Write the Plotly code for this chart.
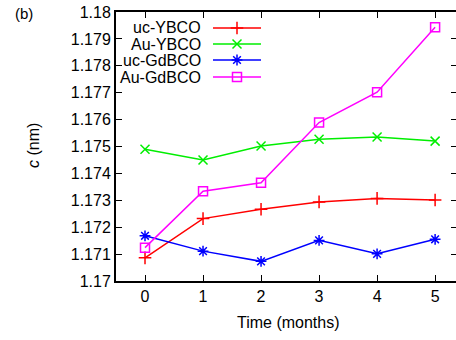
import plotly.graph_objects as go

months = [0, 1, 2, 3, 4, 5]
uc_ybco = [1.17086, 1.17232, 1.17267, 1.17294, 1.17307, 1.17301]
au_ybco = [1.17490, 1.17450, 1.17502, 1.17527, 1.17535, 1.17520]
uc_gdbco = [1.17168, 1.17111, 1.17073, 1.17151, 1.17101, 1.17155]
au_gdbco = [1.17124, 1.17334, 1.17365, 1.17589, 1.17702, 1.17943]

names = ["uc-YBCO", "Au-YBCO", "uc-GdBCO", "Au-GdBCO"]
series = [uc_ybco, au_ybco, uc_gdbco, au_gdbco]
colors = ["#ff0000", "#00ee00", "#0000ff", "#ff00ff"]
symbols = ["cross-thin-open", "x-thin-open", "asterisk-open", "square-open"]
sizes = [9, 9, 9, 9]

y_ticks = [1.17, 1.171, 1.172, 1.173, 1.174, 1.175, 1.176, 1.177, 1.178, 1.179, 1.18]
y_tick_text = ["1.17", "1.171", "1.172", "1.173", "1.174", "1.175", "1.176", "1.177", "1.178", "1.179", "1.18"]

W, H = 456, 340
L, R, T, B = 116, 0, 12, 59
pw, ph = W - L - R, H - T - B

def px(x):
    return (x - L) / pw

def py(y):
    return (H - B - y) / ph

FONT = "Liberation Sans, Arial, sans-serif"
fig = go.Figure()

for name, vals, c, s, sz in zip(names, series, colors, symbols, sizes):
    fig.add_trace(go.Scatter(
        x=months, y=vals, mode="lines+markers", name=name, showlegend=False,
        line=dict(color=c, width=1.5),
        marker=dict(symbol=s, size=sz, color=c, line=dict(color=c, width=1.5)),
        xaxis="x", yaxis="y",
    ))

# custom gnuplot-style key (text left, sample right)
rows_y = [28, 44, 60, 77]
x0, x1, xm, xt = 213, 261, 237, 203
for name, c, s, sz, ry in zip(names, colors, symbols, sizes, rows_y):
    fig.add_shape(type="line", xref="paper", yref="paper",
                  x0=px(x0), x1=px(x1), y0=py(ry), y1=py(ry),
                  line=dict(color=c, width=1.5))
    fig.add_trace(go.Scatter(
        x=[px(xm)], y=[py(ry)], mode="markers", showlegend=False,
        marker=dict(symbol=s, size=sz, color=c, line=dict(color=c, width=1.5)),
        xaxis="x3", yaxis="y3", hoverinfo="skip",
    ))
    fig.add_annotation(x=px(xt), y=py(ry), xref="paper", yref="paper",
                       text=name, showarrow=False, xanchor="right", yanchor="middle",
                       font=dict(family=FONT, size=16, color="black"))

# dummy trace for right-side ticks
fig.add_trace(go.Scatter(x=[None], y=[None], xaxis="x", yaxis="y2", showlegend=False))

fig.add_annotation(x=px(13), y=py(13), xref="paper", yref="paper", text="(b)",
                   showarrow=False, xanchor="left", yanchor="middle",
                   font=dict(family=FONT, size=15, color="black"))
fig.add_annotation(x=px(33), y=py(146), xref="paper", yref="paper",
                   text="<i>c</i> (nm)", textangle=-90, showarrow=False,
                   xanchor="center", yanchor="middle",
                   font=dict(family=FONT, size=16, color="black"))
fig.add_annotation(x=px(288), y=py(322), xref="paper", yref="paper",
                   text="Time (months)", showarrow=False,
                   xanchor="center", yanchor="middle",
                   font=dict(family=FONT, size=16, color="black"))

fig.update_layout(
    width=W, height=H,
    margin=dict(l=L, r=R, t=T, b=B, pad=0),
    paper_bgcolor="white", plot_bgcolor="white",
    font=dict(family=FONT, size=16, color="black"),
    xaxis=dict(range=[-0.5, 5.36], tickvals=months, ticks="inside", ticklen=6,
               tickwidth=1.2, tickcolor="black", showline=True, linewidth=2,
               linecolor="black", mirror="ticks", showgrid=False, zeroline=False,
               tickfont=dict(family=FONT, size=16)),
    yaxis=dict(range=[1.17, 1.18], tickvals=y_ticks, ticktext=y_tick_text,
               ticks="inside", ticklen=6, tickwidth=1.2, tickcolor="black",
               showline=True, linewidth=2, linecolor="black", mirror=False,
               showgrid=False, zeroline=False, tickfont=dict(family=FONT, size=16)),
    yaxis2=dict(range=[1.17, 1.18], tickvals=y_ticks, overlaying="y", side="right",
                ticks="inside", ticklen=5, tickwidth=1.2, tickcolor="black",
                showline=False, showticklabels=False, showgrid=False, zeroline=False),
    xaxis3=dict(range=[0, 1], overlaying="x", visible=False),
    yaxis3=dict(range=[0, 1], overlaying="y", visible=False, anchor="x3"),
    showlegend=False,
)

fig.write_html("out.html")
